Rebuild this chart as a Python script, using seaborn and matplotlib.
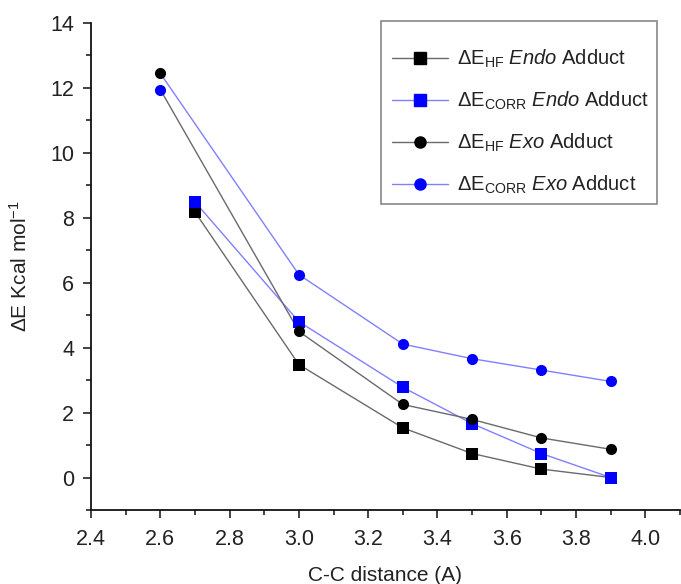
"""C-C distance vs interaction energy for endo/exo adducts."""
import numpy as np
import matplotlib
matplotlib.use('Agg')
import matplotlib.pyplot as plt
import matplotlib.ticker as ticker
from matplotlib.lines import Line2D
from matplotlib.patches import Rectangle
import seaborn as sns

sns.set_theme(style='ticks')
plt.rcParams.update({
    'font.family': ['Liberation Sans', 'DejaVu Sans'],
    'font.size': 15,
    'mathtext.fontset': 'custom',
    'mathtext.rm': 'Liberation Sans',
    'mathtext.it': 'Liberation Sans:italic',
    'mathtext.bf': 'Liberation Sans:bold',
    'text.color': '#222222',
    'axes.labelcolor': '#222222',
    'xtick.color': '#222222',
    'ytick.color': '#222222',
})

# data
x_endo = [2.7, 3.0, 3.3, 3.5, 3.7, 3.9]
endo_hf = [8.18, 3.48, 1.53, 0.74, 0.26, 0.0]
endo_corr = [8.49, 4.80, 2.78, 1.66, 0.74, 0.0]

x_exo = [2.6, 3.0, 3.3, 3.5, 3.7, 3.9]
exo_hf = [12.45, 4.50, 2.25, 1.79, 1.22, 0.87]
exo_corr = [11.95, 6.25, 4.11, 3.66, 3.31, 2.96]

# in the original the two exo lines start from each other's first point
exo_hf_line = [exo_corr[0]] + exo_hf[1:]
exo_corr_line = [exo_hf[0]] + exo_corr[1:]

labels = [r'$\Delta$E$_{\mathrm{HF}}$ $\mathit{Endo}$ Adduct',
          r'$\Delta$E$_{\mathrm{CORR}}$ $\mathit{Endo}$ Adduct',
          r'$\Delta$E$_{\mathrm{HF}}$ $\mathit{Exo}$ Adduct',
          r'$\Delta$E$_{\mathrm{CORR}}$ $\mathit{Exo}$ Adduct']

BLACK_LINE = '#6a6a6a'
BLUE_LINE = '#8080ff'
BLACK = '#000000'
BLUE = '#0000ff'
MS = 8

fig = plt.figure(figsize=(6.81, 5.84), dpi=100)
ax = fig.add_axes([91 / 681, 1 - 510 / 584, 589 / 681, 487 / 584])

series = [
    (x_endo, endo_hf, endo_hf, BLACK_LINE, BLACK, 's'),
    (x_endo, endo_corr, endo_corr, BLUE_LINE, BLUE, 's'),
    (x_exo, exo_hf, exo_hf_line, BLACK_LINE, BLACK, 'o'),
    (x_exo, exo_corr, exo_corr_line, BLUE_LINE, BLUE, 'o'),
]
handles = []
for i, (xs, ys, yline, lc, mc, mk) in enumerate(series):
    sns.lineplot(x=xs, y=yline, ax=ax, color=lc, linewidth=1.0, zorder=2 + i * 0.1)
    sns.scatterplot(x=xs, y=ys, ax=ax, color=mc, marker=mk, s=MS ** 2,
                    edgecolor=mc, linewidth=0, zorder=3 + i * 0.1)
    handles.append(Line2D([], [], color=lc, linewidth=1.0, marker=mk,
                          markersize=MS, markerfacecolor=mc, markeredgecolor=mc))

ax.set_xlim(2.4, 4.1)
ax.set_ylim(-1, 14)
ax.xaxis.set_major_locator(ticker.MultipleLocator(0.2))
ax.xaxis.set_minor_locator(ticker.MultipleLocator(0.1))
ax.yaxis.set_major_locator(ticker.MultipleLocator(2))
ax.yaxis.set_minor_locator(ticker.MultipleLocator(1))
ax.xaxis.set_major_formatter(ticker.FormatStrFormatter('%.1f'))
ax.set_yticks([0, 2, 4, 6, 8, 10, 12, 14])

sns.despine(ax=ax)
for sp in ['left', 'bottom']:
    ax.spines[sp].set_linewidth(1.3)
    ax.spines[sp].set_color('#111111')
ax.tick_params(which='major', direction='out', length=6, width=1.2, labelsize=15.5)
ax.tick_params(axis='x', which='major', pad=8)
ax.tick_params(axis='y', which='major', pad=6)
ax.tick_params(which='minor', direction='out', length=3.5, width=1.2)

ax.set_xlabel('C-C distance (A)', fontsize=15, labelpad=11)
ax.set_ylabel(r'$\Delta$E Kcal mol$^{\mathregular{-1}}$', fontsize=15, labelpad=14)

# legend box drawn separately (Origin-style: tight at the sides, roomy above/below)
ax.add_patch(Rectangle((0.4924, 0.628), 0.4686, 0.376, transform=ax.transAxes,
                       facecolor='white', edgecolor='#888888', linewidth=1.2,
                       clip_on=False, zorder=5))
leg = ax.legend(handles, labels, loc='upper left', bbox_to_anchor=(0.511, 0.949),
                borderaxespad=0, borderpad=0, frameon=False, fontsize=14.5,
                handlelength=2.8, handletextpad=0.45, labelspacing=0.98)
leg.set_zorder(6)

fig.savefig('out.png', dpi=100)
